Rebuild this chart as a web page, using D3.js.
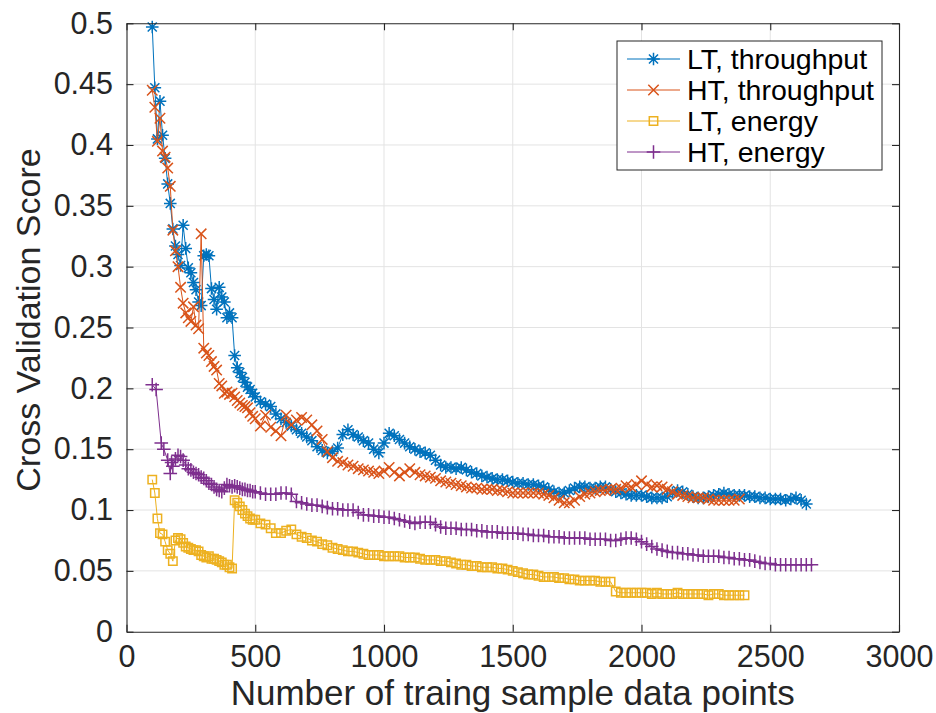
<!DOCTYPE html>
<html>
<head>
<meta charset="utf-8">
<script src="https://cdn.jsdelivr.net/npm/d3@7"></script>
<style>
  body { margin: 0; background: #fff; }
  svg { display: block; }
  text { font-family: "Liberation Sans", Arial, Helvetica, sans-serif; }
</style>
</head>
<body>
<div id="svgContainer"></div>
<script>
/**
 * Cross validation score vs number of training points.
 * Values.
 */

var xTicks = [0, 500, 1000, 1500, 2000, 2500, 3000];
var xTickLabels = ["0", "500", "1000", "1500", "2000", "2500", "3000"];
var yTicks = [0, 0.05, 0.1, 0.15, 0.2, 0.25, 0.3, 0.35, 0.4, 0.45, 0.5];
var yTickLabels = ["0", "0.05", "0.1", "0.15", "0.2", "0.25", "0.3", "0.35", "0.4", "0.45", "0.5"];

var seriesNames = ["LT, throughput", "HT, throughput", "LT, energy", "HT, energy"];

var ltThroughput = [
  [100,.497],[110,.447],[120,.405],[130,.436],[140,.408],[150,.389],[160,.368],[170,.352],[180,.331],[190,.317],
  [200,.310],[210,.301],[220,.334],[230,.315],[240,.299],[250,.295],[260,.287],[270,.281],[280,.271],[290,.268],
  [300,.309],[310,.310],[320,.309],[330,.282],[340,.273],[350,.265],[360,.283],[370,.275],[380,.271],[390,.258],
  [400,.262],[410,.258],[420,.227],[430,.217],[440,.213],[450,.209],[460,.205],[470,.201],[480,.199],[490,.196],
  [500,.193],[520,.189],[540,.187],[560,.185],[580,.179],[600,.175],[620,.172],[640,.169],[660,.166],[680,.163],
  [700,.160],[720,.157],[740,.152],[760,.149],[780,.147],[800,.148],[820,.151],[840,.162],[860,.166],[880,.162],
  [900,.160],[920,.157],[940,.155],[960,.150],[980,.147],[1000,.155],[1020,.163],[1040,.161],[1060,.158],[1080,.155],
  [1100,.152],[1120,.150],[1140,.148],[1160,.147],[1180,.145],[1200,.141],[1220,.137],[1240,.135],[1260,.135],[1280,.134],
  [1300,.135],[1320,.133],[1340,.131],[1360,.130],[1380,.128],[1400,.127],[1420,.126],[1440,.125],[1460,.125],[1480,.124],
  [1500,.123],[1520,.122],[1540,.122],[1560,.121],[1580,.121],[1600,.120],[1620,.119],[1640,.117],[1660,.115],[1680,.114],
  [1700,.114],[1720,.116],[1740,.118],[1760,.119],[1780,.119],[1800,.118],[1820,.118],[1840,.119],[1860,.119],[1880,.117],
  [1900,.115],[1920,.114],[1940,.113],[1960,.112],[1980,.112],[2000,.112],[2020,.111],[2040,.110],[2060,.110],[2080,.110],
  [2100,.111],[2120,.114],[2140,.116],[2160,.115],[2180,.113],[2200,.111],[2220,.110],[2240,.110],[2260,.111],[2280,.112],
  [2300,.113],[2320,.114],[2340,.113],[2360,.112],[2380,.112],[2400,.112],[2420,.111],[2440,.111],[2460,.110],[2480,.110],
  [2500,.109],[2520,.109],[2540,.109],[2560,.108],[2580,.109],[2600,.110],[2620,.108],[2640,.105]
];

var htThroughput = [
  [100,.445],[110,.431],[120,.403],[130,.422],[140,.395],[150,.390],[160,.381],[170,.366],[180,.330],[190,.313],
  [200,.300],[210,.283],[220,.270],[230,.262],[240,.258],[250,.255],[260,.267],[270,.252],[280,.249],[290,.327],
  [300,.233],[310,.229],[320,.227],[330,.222],[340,.218],[350,.215],[360,.204],[370,.202],[380,.196],[390,.197],
  [400,.195],[410,.196],[420,.193],[430,.190],[440,.188],[450,.186],[460,.185],[470,.184],[480,.180],[490,.177],
  [500,.175],[520,.169],[540,.178],[560,.168],[580,.165],[600,.161],[620,.178],[640,.170],[660,.174],[680,.176],
  [700,.174],[720,.170],[740,.165],[760,.158],[780,.148],[800,.143],[820,.140],[840,.139],[860,.137],[880,.136],
  [900,.134],[920,.133],[940,.132],[960,.131],[980,.130],[1000,.132],[1020,.135],[1040,.131],[1060,.128],[1080,.131],
  [1100,.134],[1120,.131],[1140,.129],[1160,.128],[1180,.127],[1200,.126],[1220,.124],[1240,.123],[1260,.122],[1280,.121],
  [1300,.120],[1320,.119],[1340,.118],[1360,.118],[1380,.117],[1400,.117],[1420,.117],[1440,.116],[1460,.116],[1480,.115],
  [1500,.114],[1520,.114],[1540,.114],[1560,.114],[1580,.114],[1600,.114],[1620,.113],[1640,.112],[1660,.110],[1680,.108],
  [1700,.106],[1720,.106],[1740,.108],[1760,.111],[1780,.113],[1800,.114],[1820,.115],[1840,.116],[1860,.116],[1880,.117],
  [1900,.117],[1920,.118],[1940,.120],[1960,.119],[1980,.121],[2000,.124],[2020,.121],[2040,.119],[2060,.120],[2080,.119],
  [2100,.117],[2120,.115],[2140,.113],[2160,.112],[2180,.111],[2200,.110],[2220,.110],[2240,.110],[2260,.109],[2280,.108],
  [2300,.108],[2320,.108],[2340,.108],[2360,.108],[2380,.109]
];

var ltEnergy = [
  [100,.125],[110,.114],[120,.093],[130,.081],[140,.080],[150,.074],[160,.067],[170,.064],[180,.058],[190,.075],
  [200,.077],[210,.076],[220,.073],[230,.070],[240,.069],[250,.068],[260,.067],[270,.067],[280,.066],[290,.063],
  [300,.062],[310,.061],[320,.062],[330,.060],[340,.060],[350,.059],[360,.058],[370,.057],[380,.055],[390,.055],
  [400,.053],[410,.052],[420,.108],[430,.106],[440,.103],[450,.100],[460,.097],[470,.095],[480,.093],[490,.092],
  [500,.092],[520,.089],[540,.088],[560,.085],[580,.081],[600,.081],[620,.083],[640,.084],[660,.080],[680,.078],
  [700,.077],[720,.075],[740,.074],[760,.072],[780,.071],[800,.069],[820,.068],[840,.067],[860,.066],[880,.066],
  [900,.065],[920,.064],[940,.063],[960,.063],[980,.063],[1000,.062],[1020,.062],[1040,.062],[1060,.062],[1080,.061],
  [1100,.061],[1120,.061],[1140,.060],[1160,.059],[1180,.059],[1200,.059],[1220,.058],[1240,.058],[1260,.057],[1280,.056],
  [1300,.055],[1320,.055],[1340,.054],[1360,.054],[1380,.053],[1400,.053],[1420,.053],[1440,.052],[1460,.052],[1480,.051],
  [1500,.050],[1520,.049],[1540,.048],[1560,.047],[1580,.047],[1600,.046],[1620,.045],[1640,.045],[1660,.045],[1680,.044],
  [1700,.044],[1720,.043],[1740,.043],[1760,.042],[1780,.042],[1800,.042],[1820,.042],[1840,.041],[1860,.041],[1880,.041],
  [1900,.033],[1920,.032],[1940,.032],[1960,.032],[1980,.032],[2000,.032],[2020,.032],[2040,.031],[2060,.032],[2080,.031],
  [2100,.031],[2120,.031],[2140,.032],[2160,.031],[2180,.031],[2200,.031],[2220,.031],[2240,.031],[2260,.030],[2280,.031],
  [2300,.031],[2320,.030],[2340,.030],[2360,.030],[2380,.030],[2400,.030]
];

var htEnergy = [
  [100,.203],[115,.199],[135,.155],[145,.150],[160,.141],[170,.130],[175,.139],[180,.136],[190,.142],[200,.145],
  [210,.144],[220,.141],[230,.137],[240,.134],[250,.133],[260,.131],[270,.130],[280,.129],[290,.127],[300,.126],
  [310,.124],[320,.122],[330,.121],[340,.119],[350,.117],[360,.116],[370,.115],[380,.118],[390,.121],[400,.120],
  [410,.119],[420,.120],[430,.119],[440,.118],[450,.117],[460,.117],[470,.116],[480,.116],[490,.115],[500,.115],
  [520,.114],[540,.113],[560,.113],[580,.113],[600,.114],[620,.114],[640,.113],[660,.107],[680,.106],[700,.105],
  [720,.104],[740,.104],[760,.103],[780,.102],[800,.101],[820,.101],[840,.100],[860,.100],[880,.100],[900,.098],
  [920,.096],[940,.096],[960,.095],[980,.095],[1000,.094],[1020,.094],[1040,.093],[1060,.092],[1080,.091],[1100,.090],
  [1120,.089],[1140,.090],[1160,.090],[1180,.090],[1200,.088],[1220,.086],[1240,.085],[1260,.085],[1280,.085],[1300,.084],
  [1320,.084],[1340,.084],[1360,.083],[1380,.083],[1400,.082],[1420,.082],[1440,.082],[1460,.081],[1480,.081],[1500,.081],
  [1520,.081],[1540,.080],[1560,.080],[1580,.079],[1600,.079],[1620,.079],[1640,.078],[1660,.078],[1680,.078],[1700,.077],
  [1720,.077],[1740,.077],[1760,.077],[1780,.077],[1800,.076],[1820,.076],[1840,.076],[1860,.076],[1880,.075],[1900,.075],
  [1920,.076],[1940,.077],[1960,.077],[1980,.076],[2000,.074],[2020,.072],[2040,.070],[2060,.068],[2080,.067],[2100,.066],
  [2120,.065],[2140,.065],[2160,.064],[2180,.064],[2200,.063],[2220,.063],[2240,.062],[2260,.062],[2280,.062],[2300,.062],
  [2320,.061],[2340,.061],[2360,.060],[2380,.060],[2400,.059],[2420,.059],[2440,.058],[2460,.057],[2480,.056],[2500,.056],
  [2520,.055],[2540,.055],[2560,.055],[2580,.055],[2600,.055],[2620,.055],[2640,.055],[2660,.055]
];

var colors = ["#0072BD", "#D95319", "#EDB120", "#7E2F8E"];
var markers = ["asterisk", "times", "square", "plus"];
var allSeries = [ltThroughput, htThroughput, ltEnergy, htEnergy];

var width = 936, height = 713;
var axisColor = "#262626";

var x = d3.scaleLinear().domain([0, 3000]).range([126.5, 899]);
var y = d3.scaleLinear().domain([0, 0.5]).range([631.7, 23.3]);

var svg = d3.select("#svgContainer").append("svg")
  .attr("width", width)
  .attr("height", height);

svg.append("rect").attr("width", width).attr("height", height).attr("fill", "#fff");

// grid
var grid = svg.append("g").attr("stroke", "#e3e3e3").attr("stroke-width", 1);
grid.selectAll(".vg").data(xTicks.slice(1, -1)).enter().append("line")
  .attr("x1", d => x(d)).attr("x2", d => x(d))
  .attr("y1", y(0)).attr("y2", y(0.5));
grid.selectAll(".hg").data(yTicks.slice(1, -1)).enter().append("line")
  .attr("x1", x(0)).attr("x2", x(3000))
  .attr("y1", d => y(d)).attr("y2", d => y(d));

/**
 * Path for a MATLAB-like marker centred on 0,0.
 * @param {string} kind marker name
 * @returns {string} svg path
 */
function markerPath(kind) {
  if (kind === "asterisk") {
    let s = 6.3, k = s * 0.72;
    return `M0,${-s}V${s}M${-s},0H${s}M${-k},${-k}L${k},${k}M${-k},${k}L${k},${-k}`;
  }
  if (kind === "times") {
    let s = 5.2;
    return `M${-s},${-s}L${s},${s}M${-s},${s}L${s},${-s}`;
  }
  if (kind === "square") {
    let s = 4.2;
    return `M${-s},${-s}H${s}V${s}H${-s}Z`;
  }
  let s = 6.8;
  return `M0,${-s}V${s}M${-s},0H${s}`;
}

var line = d3.line().x(d => x(d[0])).y(d => y(d[1]));

var plot = svg.append("g");
allSeries.forEach((data, i) => {
  let g = plot.append("g");
  g.append("path")
    .attr("d", line(data))
    .attr("fill", "none")
    .attr("stroke", colors[i])
    .attr("stroke-width", 1);
  g.selectAll("path.m").data(data).enter().append("path")
    .attr("class", "m")
    .attr("transform", d => `translate(${x(d[0])},${y(d[1])})`)
    .attr("d", markerPath(markers[i]))
    .attr("fill", "none")
    .attr("stroke", colors[i])
    .attr("stroke-width", 1.5);
});

// axes with inner ticks on all four sides
var tick = 7;
var xAxis = svg.append("g").attr("transform", `translate(0,${y(0)})`)
  .call(d3.axisBottom(x).tickValues(xTicks).tickFormat((d, i) => xTickLabels[i])
    .tickSize(-tick).tickSizeOuter(0).tickPadding(14));
var yAxis = svg.append("g").attr("transform", `translate(${x(0)},0)`)
  .call(d3.axisLeft(y).tickValues(yTicks).tickFormat((d, i) => yTickLabels[i])
    .tickSize(-tick).tickSizeOuter(0).tickPadding(13.5));
var xTop = svg.append("g").attr("transform", `translate(0,${y(0.5)})`)
  .call(d3.axisTop(x).tickValues(xTicks).tickFormat("").tickSize(-tick).tickSizeOuter(0));
var yRight = svg.append("g").attr("transform", `translate(${x(3000)},0)`)
  .call(d3.axisRight(y).tickValues(yTicks).tickFormat("").tickSize(-tick).tickSizeOuter(0));

[xAxis, yAxis, xTop, yRight].forEach(a => {
  a.selectAll("path.domain").attr("stroke", axisColor).attr("stroke-width", 1.1);
  a.selectAll(".tick line").attr("stroke", axisColor).attr("stroke-width", 1.1);
  a.selectAll(".tick text").attr("fill", axisColor)
    .style("font-size", "30.5px")
    .style("font-family", "'Liberation Sans', Arial, Helvetica, sans-serif");
});

// axis labels
svg.append("text")
  .attr("x", (x(0) + x(3000)) / 2)
  .attr("y", 705)
  .attr("text-anchor", "middle")
  .attr("fill", axisColor)
  .style("font-size", "35px")
  .text("Number of traing sample data points");

svg.append("text")
  .attr("transform", `translate(40,320) rotate(-90)`)
  .attr("text-anchor", "middle")
  .attr("fill", axisColor)
  .style("font-size", "34px")
  .text("Cross Validation Score");

// legend
var legend = svg.append("g");
legend.append("rect")
  .attr("x", 617).attr("y", 41)
  .attr("width", 265).attr("height", 129)
  .attr("fill", "#fff")
  .attr("stroke", axisColor)
  .attr("stroke-width", 1);

seriesNames.forEach((name, i) => {
  let cy = 59 + i * 31;
  legend.append("line")
    .attr("x1", 627).attr("x2", 680)
    .attr("y1", cy).attr("y2", cy)
    .attr("stroke", colors[i]).attr("stroke-width", 1);
  legend.append("path")
    .attr("transform", `translate(653.5,${cy})`)
    .attr("d", markerPath(markers[i]))
    .attr("fill", "none")
    .attr("stroke", colors[i])
    .attr("stroke-width", 1.5);
  legend.append("text")
    .attr("x", 687).attr("y", cy)
    .attr("dy", "0.36em")
    .attr("fill", "#000")
    .style("font-size", "28.5px")
    .text(name);
});
</script>
</body>
</html>
